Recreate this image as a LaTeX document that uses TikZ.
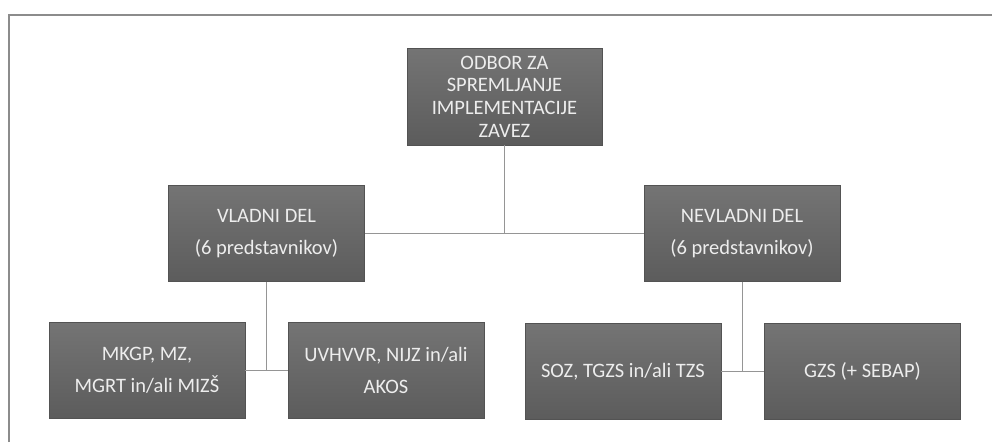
\documentclass[tikz,border=0pt]{standalone}
\usepackage{fontspec}
\setmainfont{Carlito}
\usetikzlibrary{shadings}
\definecolor{boxtop}{HTML}{747474}
\definecolor{boxbot}{HTML}{5C5C5C}
\definecolor{txt}{HTML}{EDEDED}
\definecolor{linec}{HTML}{959595}
\definecolor{framec}{HTML}{8C8C8C}
\tikzset{
  orgbox/.style={rectangle, minimum width=196pt, minimum height=96pt, inner sep=2pt,
    top color=boxtop, bottom color=boxbot, draw=boxbot!90!black, line width=0.4pt,
    text=txt, align=center},
  toptext/.style={font=\fontsize{20.5}{22.7}\selectfont},
  midtext/.style={font=\fontsize{20.5}{32}\selectfont},
  conn/.style={draw=linec, line width=1pt},
}
\begin{document}
\begin{tikzpicture}[x=1pt,y=-1pt]
\useasboundingbox[fill=white] (0,0) rectangle (992,442);
\draw[framec, line width=2pt] (9,442) -- (9,15) -- (992,15);
\node[orgbox, toptext, minimum width=195pt, minimum height=97pt] (t) at (504.5,96.5)
  {ODBOR ZA\\SPREMLJANJE\\IMPLEMENTACIJE\\ZAVEZ};
\node[orgbox, midtext] (v) at (266.5,233.5) {VLADNI DEL\\(6 predstavnikov)};
\node[orgbox, midtext] (n) at (742,233.5) {NEVLADNI DEL\\(6 predstavnikov)};
\node[orgbox, midtext] (m) at (147,370.5) {MKGP, MZ,\\MGRT in/ali MIZŠ};
\node[orgbox, midtext] (u) at (386,370.5) {UVHVVR, NIJZ in/ali\\AKOS};
\node[orgbox, midtext] (s) at (623,371.5) {SOZ, TGZS in/ali TZS};
\node[orgbox, midtext] (g) at (862.5,371.5) {GZS (+ SEBAP)};
\draw[conn] (t.south) -- (t.south |- v.east);
\draw[conn] (v.east) -- (n.west);
\draw[conn] (v.south) -- (v.south |- m.east);
\draw[conn] (m.east) -- (u.west);
\draw[conn] (n.south) -- (n.south |- s.east);
\draw[conn] (s.east) -- (g.west);
\end{tikzpicture}
\end{document}
